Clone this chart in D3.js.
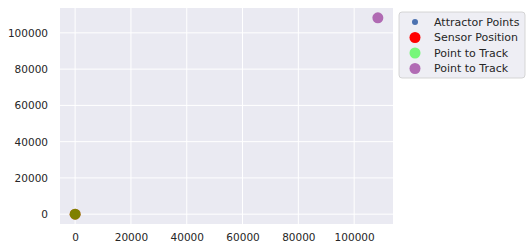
<!DOCTYPE html>
<html>
<head>
<meta charset="utf-8">
<script src="https://cdn.jsdelivr.net/npm/d3@7"></script>
<style>
body { margin: 0; background: #fff; }
svg { display: block; font-family: "DejaVu Sans", sans-serif; }
</style>
</head>
<body>
<svg id="chart" width="531" height="251"></svg>
<script>
// data
var attractorX = [];
var attractorY = [];
var sensorPos = [0, 0];
var trackPoints = [[0, 0], [108500, 108300]];
var trackColors = ["lime", "purple"];
var seriesNames = ["Attractor Points", "Sensor Position", "Point to Track", "Point to Track"];
var xTicks = [0, 20000, 40000, 60000, 80000, 100000];
var yTicks = [0, 20000, 40000, 60000, 80000, 100000];

var svg = d3.select("#chart"),
    margin = {top: 8, right: 138, bottom: 27, left: 60},
    width = +svg.attr("width") - margin.left - margin.right,
    height = +svg.attr("height") - margin.top - margin.bottom,
    g = svg.append("g").attr("transform", "translate(" + margin.left + "," + margin.top + ")");

// matplotlib style 5% margins
var xmin = 0, xmax = 108500, ymin = 0, ymax = 108300;
var x = d3.scaleLinear()
    .domain([xmin - 0.05 * (xmax - xmin), xmax + 0.05 * (xmax - xmin)])
    .range([0, width]);
var y = d3.scaleLinear()
    .domain([ymin - 0.05 * (ymax - ymin), ymax + 0.05 * (ymax - ymin)])
    .range([height, 0]);

g.append("rect")
    .attr("width", width)
    .attr("height", height)
    .attr("fill", "#eaeaf2");

// grid
g.append("g").selectAll("line")
  .data(xTicks).enter().append("line")
    .attr("x1", function(d) { return x(d); })
    .attr("x2", function(d) { return x(d); })
    .attr("y1", 0).attr("y2", height)
    .attr("stroke", "#fff").attr("stroke-width", 1);
g.append("g").selectAll("line")
  .data(yTicks).enter().append("line")
    .attr("y1", function(d) { return y(d); })
    .attr("y2", function(d) { return y(d); })
    .attr("x1", 0).attr("x2", width)
    .attr("stroke", "#fff").attr("stroke-width", 1);

// axes, no tick marks
var xAxis = g.append("g")
    .attr("transform", "translate(0," + height + ")")
    .call(d3.axisBottom(x).tickValues(xTicks).tickFormat(d3.format("d")).tickSize(0).tickPadding(10));
var yAxis = g.append("g")
    .call(d3.axisLeft(y).tickValues(yTicks).tickFormat(d3.format("d")).tickSize(0).tickPadding(12));
[xAxis, yAxis].forEach(function(a) {
  a.select(".domain").remove();
  a.selectAll("text")
    .attr("fill", "#262626")
    .attr("font-size", 10.5)
    .attr("font-family", "DejaVu Sans, sans-serif");
});

// points
g.append("g").selectAll("circle")
  .data(d3.zip(attractorX, attractorY)).enter().append("circle")
    .attr("cx", function(d) { return x(d[0]); })
    .attr("cy", function(d) { return y(d[1]); })
    .attr("r", 3)
    .attr("fill", "#4c72b0");

g.append("circle")
    .attr("cx", x(sensorPos[0]))
    .attr("cy", y(sensorPos[1]))
    .attr("r", 5.5)
    .attr("fill", "red");

g.append("g").selectAll("circle")
  .data(trackPoints).enter().append("circle")
    .attr("cx", function(d) { return x(d[0]); })
    .attr("cy", function(d) { return y(d[1]); })
    .attr("r", 5.5)
    .attr("fill", function(d, i) { return trackColors[i]; })
    .attr("fill-opacity", function(d, i) { return i == 0 ? 0.5 : 0.55; });

// legend
var legend = svg.append("g").attr("transform", "translate(399,12)");
legend.append("rect")
    .attr("width", 126).attr("height", 66)
    .attr("rx", 3)
    .attr("fill", "#eeeef4")
    .attr("stroke", "#cccccc").attr("stroke-width", 0.8);

var legendStyle = [
  {r: 3, fill: "#4c72b0", op: 1},
  {r: 5.5, fill: "red", op: 1},
  {r: 5.5, fill: "lime", op: 0.5},
  {r: 5.5, fill: "purple", op: 0.55}
];
var items = legend.selectAll("g.item")
  .data(seriesNames).enter().append("g")
    .attr("class", "item")
    .attr("transform", function(d, i) { return "translate(0," + (10 + i * 15.5) + ")"; });
items.append("circle")
    .attr("cx", 16)
    .attr("r", function(d, i) { return legendStyle[i].r; })
    .attr("fill", function(d, i) { return legendStyle[i].fill; })
    .attr("fill-opacity", function(d, i) { return legendStyle[i].op; });
items.append("text")
    .attr("x", 35)
    .attr("dy", "0.35em")
    .attr("font-size", 11)
    .attr("fill", "#262626")
    .text(function(d) { return d; });
</script>
</body>
</html>
